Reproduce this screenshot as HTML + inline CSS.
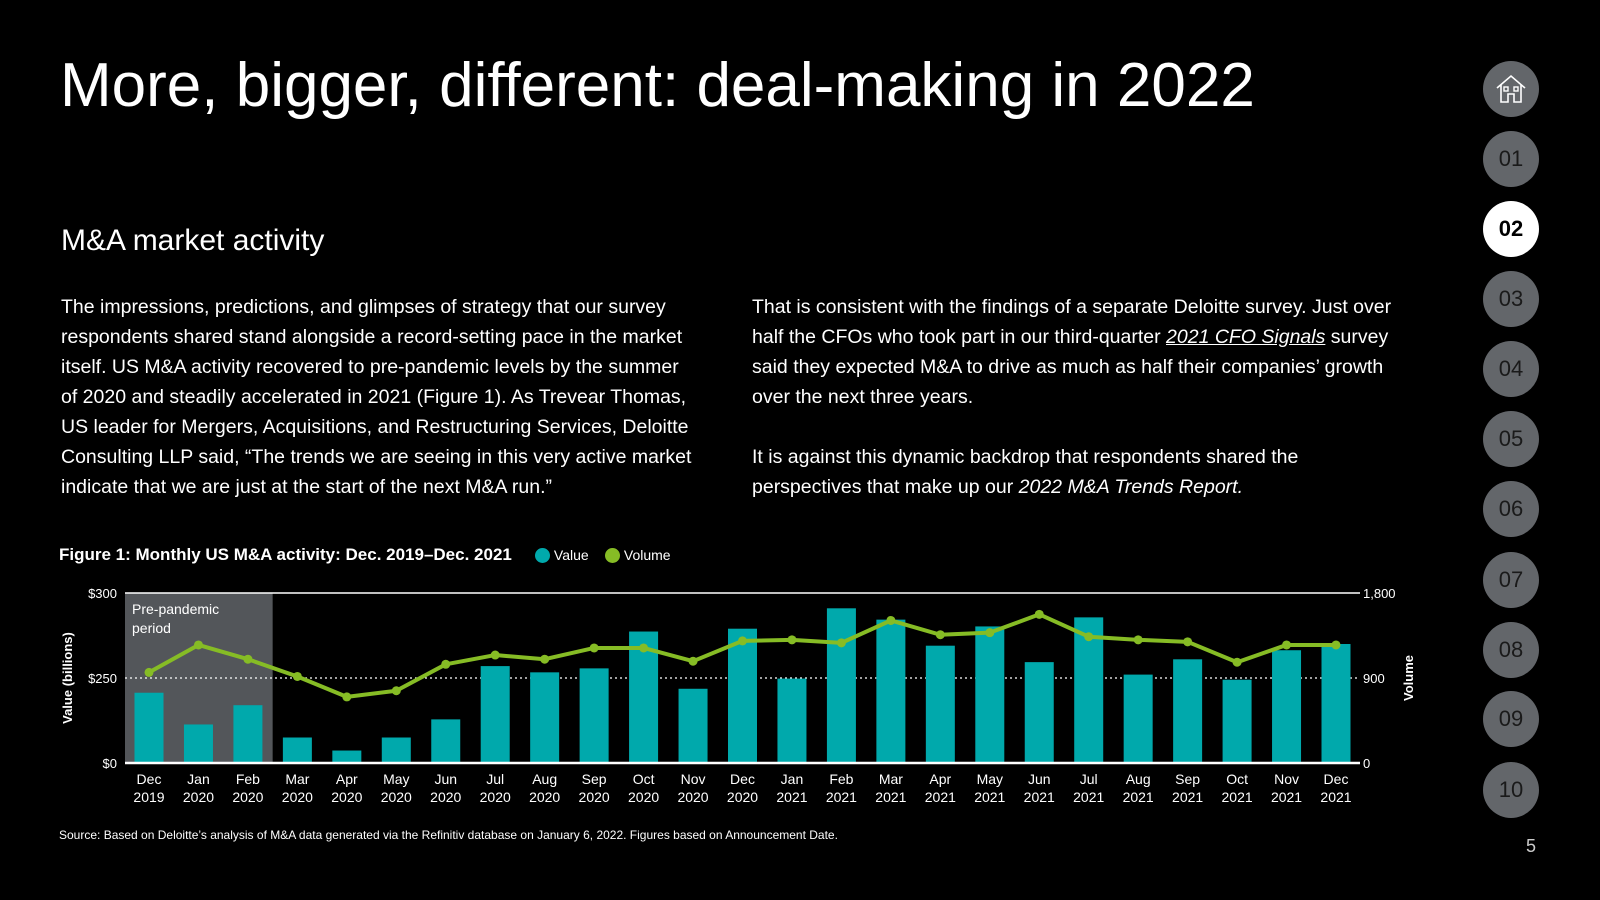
<!DOCTYPE html>
<html><head><meta charset="utf-8"><style>
body{margin:0;width:1600px;height:900px;background:#000;overflow:hidden;position:relative;font-family:"Liberation Sans",sans-serif;color:#fff}
.abs{position:absolute}
h1{position:absolute;left:60px;top:50px;margin:0;font-weight:normal;font-size:62px;letter-spacing:0px}
h2{position:absolute;left:61px;top:224px;margin:0;font-weight:normal;font-size:30px}
.p{position:absolute;top:292px;font-size:19.5px;line-height:30px;font-weight:normal}
.nav{position:absolute;left:1483px;width:56px;height:56px;border-radius:50%;background:#63666a;color:#1a1a1a;font-size:22px;text-align:center;line-height:56px}
</style></head><body>
<h1>More, bigger, different: deal-making in 2022</h1>
<h2>M&amp;A market activity</h2>
<div class="p" style="left:61px;width:636px">The impressions, predictions, and glimpses of strategy that our survey respondents shared stand alongside a record-setting pace in the market itself. US M&amp;A activity recovered to pre-pandemic levels by the summer of 2020 and steadily accelerated in 2021 (Figure 1). As Trevear Thomas, US leader for Mergers, Acquisitions, and Restructuring Services, Deloitte Consulting LLP said, “The trends we are seeing in this very active market indicate that we are just at the start of the next M&amp;A run.”</div>
<div class="p" style="left:752px;width:660px">That is consistent with the findings of a separate Deloitte survey. Just over half the CFOs who took part in our third-quarter <a style="color:#fff;font-style:italic;text-decoration:underline">2021 CFO Signals</a> survey said they expected M&amp;A to drive as much as half their companies’ growth over the next three years.<br><br>It is against this dynamic backdrop that respondents shared the perspectives that make up our <i>2022 M&amp;A Trends Report.</i></div>

<div class="abs" style="left:59px;top:545px;font-size:17px;font-weight:bold">Figure 1: Monthly US M&amp;A activity: Dec. 2019–Dec. 2021</div>
<div class="abs" style="left:535px;top:547px;font-size:14px"><span style="display:inline-block;width:15px;height:15px;border-radius:50%;background:#00a9ac;vertical-align:-3px"></span> Value</div>
<div class="abs" style="left:605px;top:547px;font-size:14px"><span style="display:inline-block;width:15px;height:15px;border-radius:50%;background:#86bc25;vertical-align:-3px"></span> Volume</div>

<svg id="chart" class="abs" style="left:0;top:0" width="1600" height="900"></svg>

<div class="abs" style="left:59px;top:828px;font-size:12px">Source: Based on Deloitte’s analysis of M&amp;A data generated via the Refinitiv database on January 6, 2022. Figures based on Announcement Date.</div>
<div class="abs" style="left:1526px;top:836px;font-size:18px;color:#ccc">5</div>

<div class="nav" style="top:61px"><svg width="32" height="30" viewBox="0 0 32 30" style="margin-top:13px"><path d="M2 14 L16 2 L30 14 M6 11 V28 H13 V20 H19 V28 H26 V11" fill="none" stroke="#fff" stroke-width="1.6"/><rect x="9" y="13" width="4" height="4" fill="none" stroke="#fff" stroke-width="1.4"/><rect x="19" y="13" width="4" height="4" fill="none" stroke="#fff" stroke-width="1.4"/></svg></div>
<div class="nav" style="top:131px">01</div>
<div class="nav" style="top:201px;background:#fff;color:#000;font-weight:bold">02</div>
<div class="nav" style="top:271px">03</div>
<div class="nav" style="top:341px">04</div>
<div class="nav" style="top:411px">05</div>
<div class="nav" style="top:481px">06</div>
<div class="nav" style="top:552px">07</div>
<div class="nav" style="top:622px">08</div>
<div class="nav" style="top:691px">09</div>
<div class="nav" style="top:762px">10</div>

<script>
const months=["Dec","Jan","Feb","Mar","Apr","May","Jun","Jul","Aug","Sep","Oct","Nov","Dec","Jan","Feb","Mar","Apr","May","Jun","Jul","Aug","Sep","Oct","Nov","Dec"];
const years=["2019","2020","2020","2020","2020","2020","2020","2020","2020","2020","2020","2020","2020","2021","2021","2021","2021","2021","2021","2021","2021","2021","2021","2021","2021"];
const valueData=[124,68,102,45,22,45,77,171,160,167,232,131,237,149,273,253,207,241,178,257,156,183,147,199,210];
const volumeData=[959,1250,1099,916,700,765,1045,1143,1099,1218,1218,1078,1293,1304,1272,1509,1358,1380,1574,1337,1304,1283,1067,1250,1250];
const leftTickVals=[0,150,300];
const leftTickLabels=["$0","$250","$300"];
const rightTickVals=[0,900,1800];
const rightTickLabels=["0","900","1,800"];
const prePandemicCount=3;

(function(){
const svg=document.getElementById('chart');
const NS='http://www.w3.org/2000/svg';
const X0=125,X1=1360,Y0=763,Y1=593,first=149,step=(1336-149)/24,bw=29;
const xPos=i=>first+i*step;
const yL=v=>Y0-(v/300)*(Y0-Y1);
const yR=v=>Y0-(v/1800)*(Y0-Y1);
function mk(tag,attrs,txt){const e=document.createElementNS(NS,tag);for(const k in attrs)e.setAttribute(k,attrs[k]);if(txt!=null)e.textContent=txt;svg.appendChild(e);return e;}

const shade=mk('rect',{x:X0,y:Y1,width:xPos(prePandemicCount)-step/2-X0,height:Y0-Y1,fill:'#53565a'});


const t1=mk('text',{x:132,y:614,fill:'#fff','font-size':14},'Pre-pandemic');


mk('text',{x:132,y:633,fill:'#fff','font-size':14},'period');

const topLine=mk('line',{x1:X0,x2:X1,y1:Y1,y2:Y1,stroke:'#fff','stroke-width':1.5});


const midLine=mk('line',{x1:X0,x2:X1,y1:yL(150),y2:yL(150),stroke:'#fff','stroke-width':1.2,'stroke-dasharray':'2,3'});



valueData.forEach((v,i)=>{
  const r=mk('rect',{x:xPos(i)-bw/2,y:yL(v),width:bw,height:Y0-yL(v),fill:'#00a9ac'});
  
  
});
const baseLine=mk('line',{x1:X0,x2:X1,y1:Y0,y2:Y0,stroke:'#fff','stroke-width':2.5});



const pts=volumeData.map((v,i)=>xPos(i)+','+yR(v)).join(' ');
const volLine=mk('polyline',{points:pts,fill:'none',stroke:'#86bc25','stroke-width':4,'stroke-linejoin':'round'});


volumeData.forEach((v,i)=>{
  const c=mk('circle',{cx:xPos(i),cy:yR(v),r:4.5,fill:'#86bc25'});
  
  
});

leftTickVals.forEach((v,i)=>{
  const t=mk('text',{x:117,y:yL(v)+5,fill:'#fff','font-size':13,'text-anchor':'end'},leftTickLabels[i]);
  
  
});
rightTickVals.forEach((v,i)=>{
  const t=mk('text',{x:1363,y:yR(v)+5,fill:'#fff','font-size':13},rightTickLabels[i]);
  
  
});
months.forEach((m,i)=>{
  const a=mk('text',{x:xPos(i),y:784,fill:'#fff','font-size':14,'text-anchor':'middle'},m);
  
  
  const b=mk('text',{x:xPos(i),y:802,fill:'#fff','font-size':14,'text-anchor':'middle'},years[i]);
  
  
});
const yl=mk('text',{x:0,y:0,fill:'#fff','font-size':13,'font-weight':'bold','text-anchor':'middle',transform:'translate(72,678) rotate(-90)'},'Value  (billions)');


const yr=mk('text',{x:0,y:0,fill:'#fff','font-size':13,'font-weight':'bold','text-anchor':'middle',transform:'translate(1413,678) rotate(-90)'},'Volume');


})();
</script>
</body></html>
